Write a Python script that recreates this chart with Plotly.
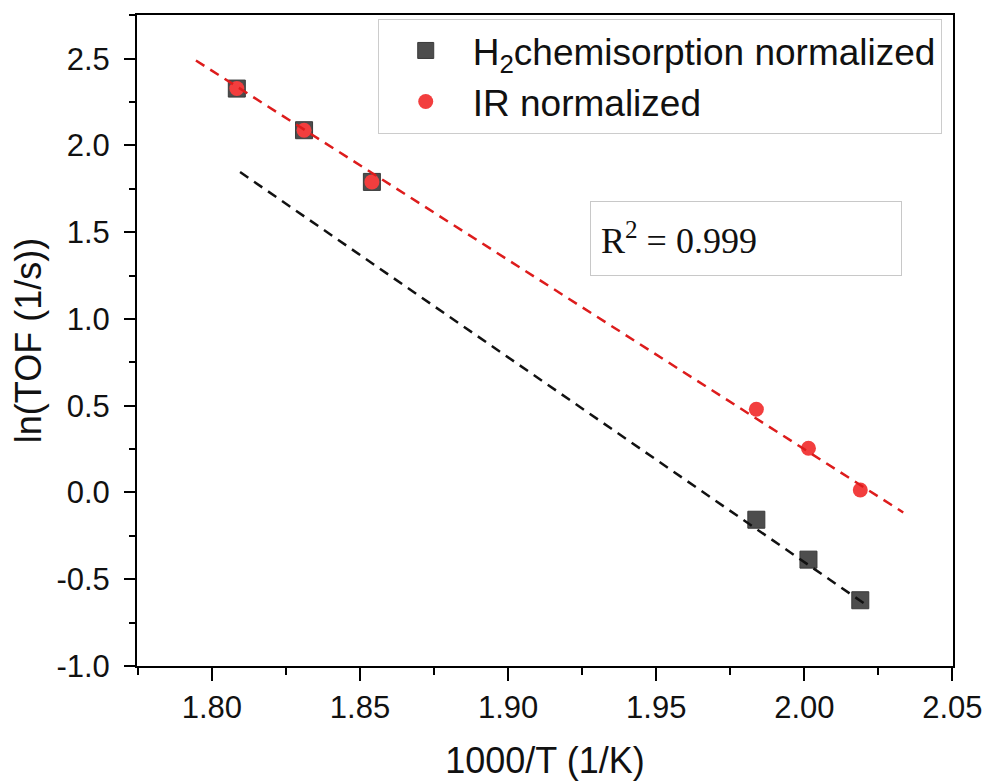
import plotly.graph_objects as go

# Data
inv_T = [1.8084, 1.8311, 1.8540, 1.9838, 2.0014, 2.0189]
h2_norm = [2.328, 2.088, 1.790, -0.157, -0.387, -0.621]
ir_norm = [2.328, 2.088, 1.790, 0.480, 0.255, 0.014]

red_fit_x = [1.7946, 2.0334]
red_fit_y = [2.490, -0.115]
black_fit_x = [1.8095, 2.0216]
black_fit_y = [1.847, -0.656]

x_ticks = [1.80, 1.85, 1.90, 1.95, 2.00, 2.05]
y_ticks = [-1.0, -0.5, 0.0, 0.5, 1.0, 1.5, 2.0, 2.5]

r2_text = "R<sup>2</sup> = 0.999"

fig = go.Figure()
fig.add_trace(go.Scatter(
    x=inv_T, y=h2_norm, mode="markers", name="H<sub>2</sub>chemisorption normalized",
    marker=dict(symbol="square", size=17, color="#4d4d4d", line=dict(color="#3a3a3a", width=1)),
))
fig.add_trace(go.Scatter(
    x=inv_T, y=ir_norm, mode="markers", name="IR normalized",
    marker=dict(symbol="circle", size=15, color="#f23e3e", line=dict(width=0)),
))
fig.add_trace(go.Scatter(
    x=black_fit_x, y=black_fit_y, mode="lines", showlegend=False,
    line=dict(color="#111111", width=2.5, dash="10px,7px"),
))
fig.add_trace(go.Scatter(
    x=red_fit_x, y=red_fit_y, mode="lines", showlegend=False,
    line=dict(color="#dd1c1c", width=2.5, dash="10px,7px"),
))

tick_font = dict(family="Liberation Sans, Arial, sans-serif", size=31, color="#111111")
title_font = dict(family="Liberation Sans, Arial, sans-serif", size=36, color="#111111")

fig.update_xaxes(
    range=[1.7747, 2.0502], tickvals=x_ticks, ticktext=[f"{v:.2f}" for v in x_ticks],
    ticks="outside", ticklen=13, tickwidth=2, tickcolor="black",
    minor=dict(ticks="outside", ticklen=7, tickwidth=2, tickcolor="black", dtick=0.025, tick0=1.775),
    showline=True, linewidth=2, linecolor="black", mirror=True,
    showgrid=False, zeroline=False, tickfont=tick_font,
    title=dict(text="1000/T (1/K)", font=title_font, standoff=26),
)
fig.update_yaxes(
    range=[-1.0, 2.752], tickvals=y_ticks, ticktext=[f"{v:.1f}" for v in y_ticks],
    ticks="outside", ticklen=11, tickwidth=2, tickcolor="black",
    minor=dict(ticks="outside", ticklen=6, tickwidth=2, tickcolor="black", dtick=0.25, tick0=-1.0),
    showline=True, linewidth=2, linecolor="black", mirror=True,
    showgrid=False, zeroline=False, tickfont=tick_font, ticklabelstandoff=8,
    title=dict(text="ln(TOF (1/s))", font=title_font, standoff=12),
)

fig.add_annotation(
    x=1.9804, y=1.466, xref="x", yref="y", text=r2_text, showarrow=False,
    font=dict(family="Liberation Serif, Times New Roman, serif", size=36, color="#111111"),
    align="left", width=290, height=53, borderpad=10,
    bordercolor="#c8c8c8", borderwidth=1, bgcolor="white",
)

# The page body adds an 8px offset, so the figure is 8px smaller each way
fig.update_layout(
    width=983, height=773,
    margin=dict(l=129, r=38, t=5, b=113),
    paper_bgcolor="white", plot_bgcolor="white",
    legend=dict(
        x=0.295, y=0.994, xanchor="left", yanchor="top",
        bgcolor="white", bordercolor="#cccccc", borderwidth=1,
        font=dict(family="Liberation Sans, Arial, sans-serif", size=37, color="#111111"),
        tracegroupgap=0, itemsizing="trace", itemwidth=84,
    ),
)

fig.write_html("out.html")
